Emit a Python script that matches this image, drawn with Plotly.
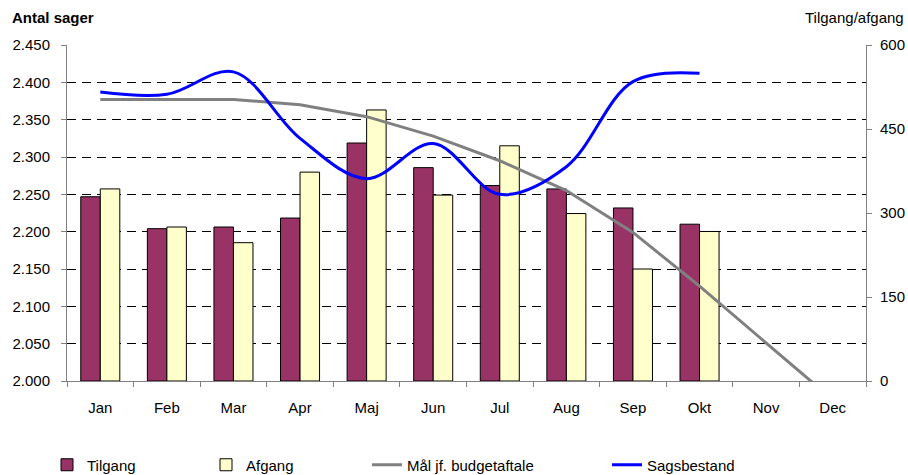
import plotly.graph_objects as go

months = ["Jan", "Feb", "Mar", "Apr", "Maj", "Jun", "Jul", "Aug", "Sep", "Okt", "Nov", "Dec"]
tilgang = [329, 272, 275, 291, 425, 381, 349, 343, 309, 280, None, None]
afgang = [343, 275, 247, 373, 484, 332, 420, 299, 200, 267, None, None]
maal = [2377, 2377, 2377, 2370, 2354, 2328, 2295, 2255, 2199, 2127, 2051, 1975]
sagsbestand = [2387, 2384, 2414, 2325, 2271, 2318, 2250, 2287, 2401, 2412, None, None]

left_ticks = [2000, 2050, 2100, 2150, 2200, 2250, 2300, 2350, 2400, 2450]
right_ticks = [0, 150, 300, 450, 600]

FONT = "Liberation Sans, Arial, sans-serif"
W, H = 908, 475
L, R, T, B = 67, 42, 45, 94
PW, PH = W - L - R, H - T - B

fig = go.Figure()
fig.add_trace(go.Bar(x=months, y=tilgang, name="Tilgang", marker=dict(color="#993366", line=dict(color="#000000", width=1)),
                     yaxis="y", legend="legend", showlegend=True))
fig.add_trace(go.Bar(x=months, y=afgang, name="Afgang", marker=dict(color="#FFFFCC", line=dict(color="#000000", width=1)),
                     yaxis="y", legend="legend2", showlegend=True))
fig.add_trace(go.Scatter(x=months, y=maal, name="Mål jf. budgetaftale", mode="lines",
                         line=dict(color="#808080", width=3), yaxis="y2", legend="legend3", showlegend=True))
fig.add_trace(go.Scatter(x=months, y=sagsbestand, name="Sagsbestand", mode="lines",
                         line=dict(color="#0000FF", width=3, shape="spline", smoothing=1),
                         yaxis="y2", legend="legend4", connectgaps=False, showlegend=True))

def leg(px):
    return dict(xref="paper", yref="paper", x=(px - L) / PW, y=(H - B - 465) / PH, xanchor="left", yanchor="middle",
                orientation="h", font=dict(family=FONT, size=15, color="#000000"), bgcolor="rgba(0,0,0,0)",
                visible=True)

fig.update_layout(
    width=W, height=H,
    showlegend=True,
    margin=dict(l=L, r=R, t=T, b=B, autoexpand=False),
    paper_bgcolor="#ffffff", plot_bgcolor="#ffffff",
    font=dict(family=FONT, size=15, color="#000000"),
    separators=",.",
    barmode="group", bargap=0.414, bargroupgap=0,
    xaxis=dict(type="category", showline=True, linecolor="#808080", linewidth=1,
               ticks="outside", tickson="boundaries", ticklen=5, tickcolor="#808080",
               showgrid=False, tickfont=dict(size=15), ticklabelstandoff=13, range=[-0.5, 11.5], automargin=False),
    yaxis=dict(side="right", range=[0, 600], tickvals=right_ticks, tickformat="d", showgrid=False,
               showline=True, linecolor="#808080", linewidth=1, ticks="outside", ticklen=5, tickcolor="#808080",
               zeroline=False, tickfont=dict(size=15), ticklabelstandoff=5, automargin=False),
    yaxis2=dict(overlaying="y", side="left", range=[2000, 2450], tickvals=left_ticks, tickformat=",d",
                showgrid=True, gridcolor="#000000", gridwidth=1, griddash="9px,6px",
                showline=True, linecolor="#808080", linewidth=1, ticks="outside", ticklen=5, tickcolor="#808080",
                zeroline=False, tickfont=dict(size=15), ticklabelstandoff=8, automargin=False),
    legend=leg(47), legend2=leg(206), legend3=leg(367), legend4=leg(607),
    annotations=[
        dict(text="<b>Antal sager</b>", xref="paper", yref="paper", x=(10 - L) / PW, y=(H - B - 17) / PH,
             xanchor="left", yanchor="middle", showarrow=False, font=dict(size=15)),
        dict(text="Tilgang/afgang", xref="paper", yref="paper", x=(906 - L) / PW, y=(H - B - 17) / PH,
             xanchor="right", yanchor="middle", showarrow=False, font=dict(size=15)),
    ],
)

fig.write_html("out.html", config={"displayModeBar": False},
               post_script="document.body.style.margin='0';document.body.style.overflow='hidden';")
